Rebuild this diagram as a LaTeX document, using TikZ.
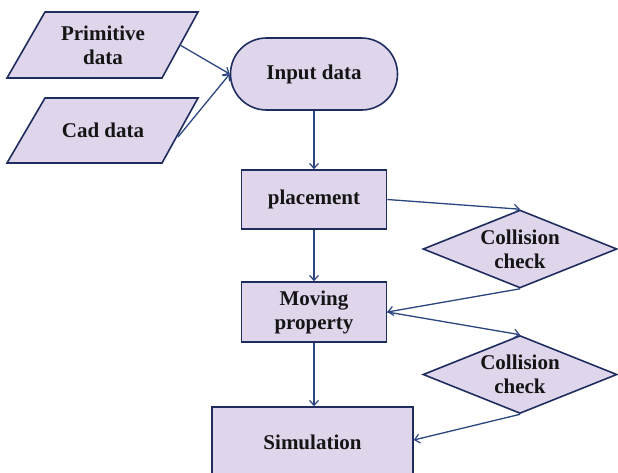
\documentclass[tikz,border=0pt]{standalone}
\usepackage{fontspec}
\setmainfont{Liberation Serif}
\usetikzlibrary{shapes.geometric,arrows.meta}
\definecolor{boxfill}{HTML}{E0D6EC}
\definecolor{boxedge}{HTML}{1E2D5E}
\definecolor{lineblue}{HTML}{2A4580}
\definecolor{txt}{HTML}{151515}
\tikzset{
  lbl/.style={text=txt,font=\fontsize{21}{24}\selectfont\bfseries,align=center},
  procbox/.style={lbl,draw=boxedge,fill=boxfill,line width=1.6pt,rectangle,inner sep=0pt},
  decbox/.style={lbl,draw=boxedge,fill=boxfill,line width=1.6pt,diamond,aspect=2.5,inner sep=0pt,minimum width=194pt,minimum height=78pt},
  shapeline/.style={draw=boxedge,fill=boxfill,line width=1.6pt,line join=miter},
  conn/.style={draw=lineblue,line width=1.3pt,-{Straight Barb[length=5pt,width=9pt,line width=1.2pt]}}
}
\begin{document}
\begin{tikzpicture}[x=1pt,y=-1pt]
\useasboundingbox (0,0) rectangle (618,472);
% parallelograms
\path[shapeline] (45,12) -- (198,12) -- (162,78) -- (7,78) -- cycle;
\path[shapeline] (45,98) -- (198,98) -- (162,163) -- (7,163) -- cycle;
\node[lbl] (prim) at (103,45) {Primitive\\data};
\node[lbl] (cad) at (103,130) {Cad data};
\coordinate (primout) at (180,45);
\coordinate (cadout) at (178,137);
% terminal
\node[procbox,rounded corners=36pt,minimum width=167pt,minimum height=72pt] (input) at (314,74) {Input data};
% process boxes
\node[procbox,minimum width=145pt,minimum height=59pt] (place) at (314,199.5) {placement};
\node[procbox,minimum width=145pt,minimum height=60pt] (move) at (314,312) {Moving\\property};
\node[procbox,minimum width=201pt,minimum height=70pt] (sim) at (312.5,442) {Simulation};
% decisions
\node[decbox] (d1) at (520,249) {Collision\\check};
\node[decbox] (d2) at (520,374.5) {Collision\\check};
% connectors
\draw[conn] (primout) -- (input.west);
\draw[conn] (cadout) -- (input.west);
\draw[conn] (input.south) -- (place.north);
\draw[conn] (place.south) -- (move.north);
\draw[conn] (move.south) -- (move.south |- sim.north);
\draw[conn] (place.east) -- (d1.north);
\draw[conn] (d1.south) -- (move.east);
\draw[conn] (move.east) -- (d2.north);
\draw[conn] (d2.south) -- ([yshift=2pt]sim.east);
\end{tikzpicture}
\end{document}
